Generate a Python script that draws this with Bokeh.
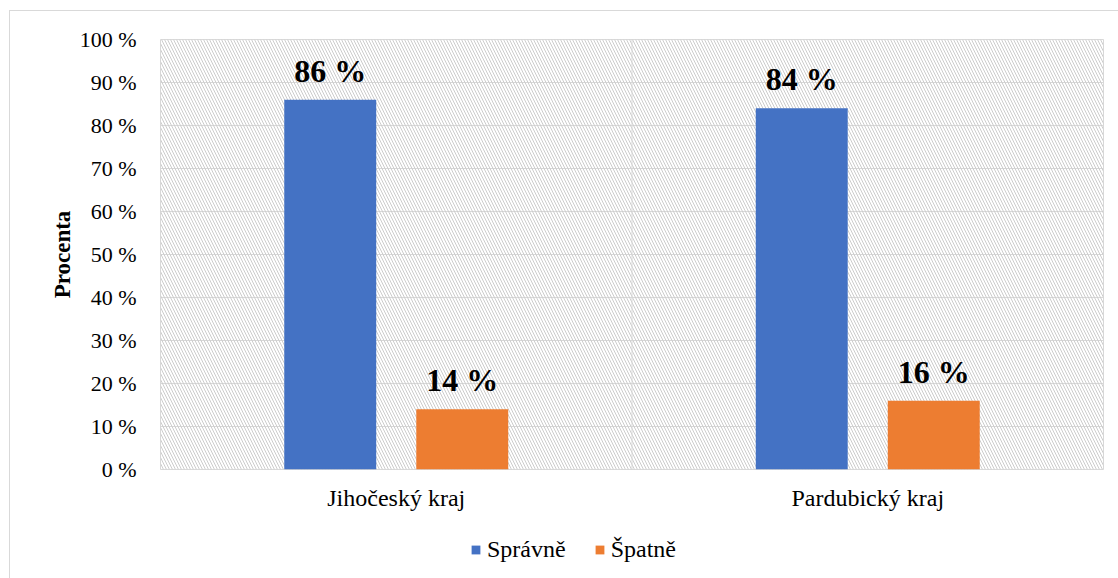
from bokeh.plotting import figure
from bokeh.layouts import column
from bokeh.models import (ColumnDataSource, FactorRange, Range1d, FixedTicker, Span,
                          BoxAnnotation, LabelSet, Legend, LegendItem)
from bokeh.core.properties import value
from bokeh.transform import dodge
from bokeh.embed import file_html
from bokeh.resources import INLINE

categories = ["Jihočeský kraj", "Pardubický kraj"]
spravne = [86, 84]
spatne = [14, 16]
series_names = ["Správně", "Špatně"]
series_colors = ["#4472C4", "#ED7D31"]
y_ticks = [0, 10, 20, 30, 40, 50, 60, 70, 80, 90, 100]
y_tick_labels = ["0 %", "10 %", "20 %", "30 %", "40 %", "50 %", "60 %", "70 %", "80 %", "90 %", "100 %"]

FONT = "Liberation Serif, Times New Roman, serif"
GRID = "#d9d9d9"

src1 = ColumnDataSource(dict(cat=categories, val=spravne, lab=[f"{v} %" for v in spravne]))
src2 = ColumnDataSource(dict(cat=categories, val=spatne, lab=[f"{v} %" for v in spatne]))

p = figure(width=1108, height=521, output_backend="svg", toolbar_location=None,
           x_range=FactorRange(*categories, range_padding=0), y_range=Range1d(0, 100),
           min_border_left=150, min_border_right=15, min_border_top=28, min_border_bottom=63)

p.outline_line_color = GRID
p.outline_line_width = 1
p.background_fill_color = "white"
p.border_fill_color = "white"

hatch = BoxAnnotation(fill_alpha=0, line_alpha=0, hatch_pattern="\\", hatch_color="#cccccc",
                      hatch_alpha=1, hatch_scale=6, hatch_weight=1, level="underlay")
p.add_layout(hatch)

p.xgrid.grid_line_color = None
p.ygrid.grid_line_color = GRID
p.ygrid.grid_line_width = 1
p.ygrid.ticker = FixedTicker(ticks=y_ticks)
p.add_layout(Span(location=1, dimension="height", line_color=GRID, line_width=1))

p.vbar(x=dodge("cat", -0.14, range=p.x_range), top="val", width=0.195, source=src1,
       fill_color=series_colors[0], line_color=None)
p.vbar(x=dodge("cat", 0.14, range=p.x_range), top="val", width=0.195, source=src2,
       fill_color=series_colors[1], line_color=None)

for src, off in ((src1, -0.14), (src2, 0.14)):
    p.add_layout(LabelSet(x=dodge("cat", off, range=p.x_range), y="val", text="lab", source=src,
                          y_offset=18, text_align="center", text_baseline="alphabetic",
                          text_font=value(FONT), text_font_style="bold", text_font_size="32px",
                          text_color="black"))

p.yaxis.ticker = FixedTicker(ticks=y_ticks)
p.yaxis.major_label_overrides = {t: l for t, l in zip(y_ticks, y_tick_labels)}
for ax in (p.xaxis[0], p.yaxis[0]):
    ax.axis_line_color = None
    ax.major_tick_line_color = None
    ax.minor_tick_line_color = None
    ax.major_label_text_font = FONT
    ax.major_label_text_color = "black"
p.yaxis.major_label_text_font_size = "22px"
p.xaxis.major_label_text_font_size = "24px"
p.yaxis.major_label_standoff = 18
p.xaxis.major_label_standoff = 9
p.yaxis.axis_label = "Procenta"
p.yaxis.axis_label_text_font = FONT
p.yaxis.axis_label_text_font_style = "bold"
p.yaxis.axis_label_text_font_size = "23px"
p.yaxis.axis_label_text_color = "black"
p.yaxis.axis_label_standoff = 2

# legend strip (separate figure so the legend is not clipped by the plot frame);
# its zero-width bars use the same data and lie outside its visible y range
lg = figure(width=1108, height=46, output_backend="svg", toolbar_location=None,
            x_range=FactorRange(*categories), y_range=Range1d(200, 201),
            x_axis_location=None, y_axis_location=None, min_border=0)
lg.outline_line_color = None
lg.grid.grid_line_color = None
lg.border_fill_color = "white"
lg.background_fill_color = "white"
lr1 = lg.vbar(x="cat", top="val", width=0, source=src1, fill_color=series_colors[0], line_color=None)
lr2 = lg.vbar(x="cat", top="val", width=0, source=src2, fill_color=series_colors[1], line_color=None)
legend = Legend(items=[LegendItem(label=series_names[0], renderers=[lr1]),
                       LegendItem(label=series_names[1], renderers=[lr2])],
                orientation="horizontal", location=(310, 15),
                label_text_font=FONT, label_text_font_size="24px", label_text_color="black",
                glyph_width=11, glyph_height=11, spacing=28, label_standoff=6,
                border_line_color=None, background_fill_alpha=0, margin=0, padding=0)
lg.add_layout(legend)

layout = column(p, lg, spacing=0,
                styles={"border-left": "1px solid #d9d9d9", "border-top": "1px solid #d9d9d9",
                        "margin-left": "9px", "margin-top": "10px"})

open("out.html", "w").write(file_html(layout, INLINE))
